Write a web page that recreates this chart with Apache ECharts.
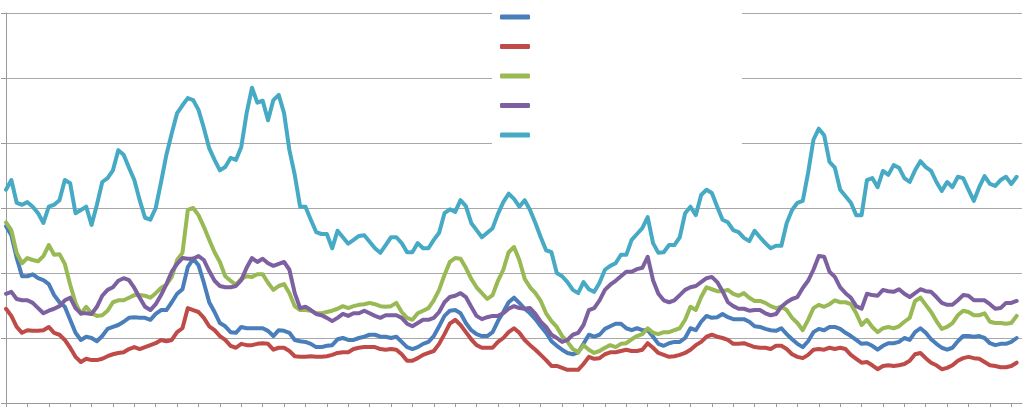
<!DOCTYPE html>
<html>
<head>
<meta charset="utf-8">
<script src="https://cdn.jsdelivr.net/npm/echarts@6/dist/echarts.min.js"></script>
<style>
html,body{margin:0;padding:0;background:#fff;}
#chart{width:1024px;height:407px;}
</style>
</head>
<body>
<div id="chart"></div>
<script>
const categories = Array.from({length: 191}, (_, i) => String(i + 1));
const seriesNames = ['Series 1', 'Series 2', 'Series 3', 'Series 4', 'Series 5'];
const yTicks = [0, 1, 2, 3, 4, 5, 6];

const blue = [2.72,2.58,2.23,1.95,1.95,1.98,1.92,1.89,1.83,1.66,1.55,1.48,1.28,1.08,0.97,1.02,1.00,0.95,1.03,1.14,
1.17,1.20,1.25,1.31,1.32,1.31,1.31,1.28,1.37,1.43,1.43,1.55,1.68,1.75,2.09,2.22,2.12,1.85,1.55,1.40,
1.23,1.18,1.09,1.08,1.17,1.15,1.15,1.15,1.15,1.11,1.03,1.12,1.11,1.08,0.97,0.95,0.94,0.91,0.86,0.86,
0.88,0.89,0.98,1.00,0.97,0.97,1.00,1.02,1.05,1.05,1.02,1.02,1.00,1.02,0.94,0.86,0.83,0.86,0.91,0.94,
1.03,1.18,1.34,1.42,1.43,1.38,1.23,1.12,1.06,1.03,1.03,1.09,1.26,1.40,1.55,1.62,1.54,1.45,1.38,1.29,
1.18,1.08,0.95,0.88,0.82,0.77,0.75,0.78,0.91,1.05,1.02,1.05,1.14,1.18,1.22,1.22,1.15,1.12,1.15,1.12,
1.12,1.02,0.91,0.88,0.92,0.94,0.94,1.00,1.15,1.12,1.25,1.34,1.31,1.32,1.37,1.32,1.29,1.29,1.29,1.25,
1.18,1.17,1.14,1.12,1.11,1.15,1.06,0.98,0.91,0.86,0.95,1.09,1.14,1.12,1.17,1.17,1.14,1.08,1.03,0.97,
0.91,0.92,0.88,0.82,0.88,0.92,0.92,0.94,1.00,0.97,1.09,1.15,1.08,0.98,0.91,0.85,0.82,0.85,0.95,1.03,
1.03,1.02,1.03,1.00,0.92,0.89,0.91,0.91,0.94,1.00];

const red = [1.45,1.34,1.17,1.08,1.12,1.11,1.11,1.12,1.17,1.08,1.05,0.97,0.85,0.71,0.63,0.68,0.66,0.66,0.68,0.72,
0.75,0.77,0.78,0.83,0.86,0.83,0.86,0.89,0.92,0.97,0.95,0.97,1.09,1.15,1.46,1.43,1.40,1.31,1.18,1.12,
1.03,0.97,0.88,0.85,0.91,0.89,0.89,0.91,0.92,0.91,0.82,0.85,0.85,0.80,0.72,0.71,0.71,0.72,0.71,0.71,
0.72,0.74,0.77,0.78,0.78,0.83,0.85,0.86,0.86,0.86,0.83,0.82,0.83,0.82,0.75,0.65,0.65,0.69,0.74,0.77,
0.80,0.91,1.06,1.22,1.28,1.20,1.09,0.98,0.89,0.85,0.85,0.85,0.94,1.00,1.09,1.15,1.08,0.97,0.89,0.82,
0.74,0.66,0.57,0.57,0.54,0.51,0.51,0.51,0.60,0.71,0.68,0.69,0.75,0.78,0.78,0.80,0.82,0.80,0.80,0.82,
0.92,0.85,0.77,0.74,0.71,0.72,0.74,0.77,0.82,0.89,0.94,1.02,1.05,1.02,1.00,0.97,0.91,0.91,0.92,0.89,
0.86,0.85,0.85,0.83,0.88,0.88,0.83,0.75,0.71,0.69,0.74,0.82,0.83,0.82,0.85,0.83,0.85,0.83,0.74,0.68,
0.62,0.63,0.58,0.52,0.57,0.58,0.57,0.58,0.60,0.65,0.75,0.77,0.69,0.62,0.58,0.52,0.54,0.58,0.65,0.69,
0.71,0.69,0.68,0.63,0.58,0.57,0.55,0.55,0.57,0.62];

const green = [2.78,2.66,2.31,2.15,2.23,2.20,2.18,2.26,2.43,2.28,2.29,2.14,1.82,1.54,1.37,1.48,1.38,1.34,1.35,1.42,
1.55,1.58,1.58,1.62,1.66,1.66,1.65,1.62,1.69,1.77,1.82,1.94,2.20,2.31,2.97,3.00,2.89,2.71,2.51,2.32,
2.17,1.95,1.88,1.82,1.91,1.95,1.94,1.98,1.98,1.85,1.74,1.80,1.83,1.69,1.49,1.43,1.43,1.42,1.38,1.38,
1.40,1.42,1.45,1.49,1.46,1.49,1.51,1.52,1.54,1.52,1.49,1.48,1.49,1.54,1.40,1.31,1.28,1.38,1.42,1.46,
1.58,1.74,1.97,2.17,2.23,2.22,2.08,1.91,1.78,1.69,1.60,1.66,1.88,2.05,2.32,2.40,2.20,1.91,1.78,1.69,
1.57,1.38,1.26,1.17,1.03,0.94,0.83,0.78,0.89,0.82,0.77,0.80,0.85,0.89,0.86,0.91,0.92,0.98,1.03,1.06,
1.15,1.08,1.06,1.09,1.09,1.12,1.15,1.28,1.48,1.43,1.63,1.78,1.75,1.72,1.72,1.74,1.68,1.65,1.69,1.62,
1.57,1.57,1.54,1.49,1.46,1.48,1.43,1.31,1.23,1.12,1.28,1.46,1.51,1.48,1.52,1.58,1.55,1.55,1.52,1.38,
1.20,1.28,1.17,1.09,1.15,1.17,1.15,1.18,1.25,1.31,1.57,1.62,1.51,1.40,1.26,1.14,1.17,1.23,1.35,1.42,
1.40,1.35,1.35,1.38,1.25,1.23,1.23,1.22,1.23,1.34];

const purple = [1.68,1.71,1.60,1.58,1.58,1.54,1.46,1.38,1.42,1.45,1.49,1.58,1.62,1.46,1.38,1.38,1.37,1.48,1.65,1.74,
1.78,1.88,1.92,1.89,1.77,1.62,1.48,1.43,1.52,1.66,1.83,2.02,2.14,2.23,2.22,2.22,2.26,2.20,2.03,1.88,
1.80,1.78,1.78,1.80,1.89,2.08,2.23,2.17,2.22,2.15,2.11,2.14,2.17,2.05,1.69,1.46,1.48,1.43,1.37,1.35,
1.31,1.26,1.31,1.37,1.34,1.38,1.38,1.42,1.38,1.34,1.31,1.35,1.35,1.35,1.31,1.22,1.18,1.23,1.28,1.28,
1.31,1.40,1.55,1.63,1.65,1.69,1.63,1.48,1.34,1.29,1.32,1.34,1.34,1.38,1.45,1.49,1.46,1.45,1.46,1.37,
1.25,1.17,1.05,1.00,0.94,0.97,1.05,1.08,1.20,1.43,1.46,1.58,1.74,1.82,1.88,1.95,2.02,2.02,2.06,2.08,
2.25,1.89,1.68,1.58,1.55,1.58,1.66,1.74,1.78,1.80,1.86,1.92,1.94,1.86,1.72,1.55,1.49,1.45,1.45,1.42,
1.43,1.43,1.38,1.35,1.37,1.48,1.55,1.60,1.63,1.77,1.88,2.05,2.26,2.25,2.02,1.94,1.78,1.69,1.62,1.49,
1.45,1.68,1.66,1.65,1.74,1.72,1.71,1.75,1.68,1.63,1.69,1.75,1.72,1.71,1.63,1.54,1.51,1.51,1.58,1.66,
1.65,1.58,1.58,1.58,1.52,1.45,1.46,1.54,1.54,1.57];

const cyan = [3.28,3.43,3.08,3.05,3.09,3.02,2.92,2.77,3.02,3.05,3.12,3.43,3.38,2.92,2.97,3.02,2.74,3.05,3.40,3.46,
3.58,3.89,3.82,3.62,3.43,3.12,2.85,2.82,3.00,3.40,3.82,4.15,4.46,4.58,4.69,4.66,4.51,4.23,3.92,3.74,
3.58,3.63,3.77,3.74,3.94,4.46,4.85,4.62,4.65,4.35,4.66,4.74,4.46,3.89,3.51,3.02,3.02,2.82,2.63,2.60,
2.60,2.38,2.65,2.55,2.45,2.51,2.57,2.58,2.48,2.38,2.31,2.43,2.55,2.55,2.46,2.32,2.32,2.46,2.38,2.38,
2.51,2.62,2.92,2.98,2.94,3.12,3.03,2.77,2.66,2.55,2.62,2.69,2.91,3.09,3.22,3.14,3.02,3.12,2.97,2.77,
2.55,2.35,2.32,2.00,1.95,1.86,1.74,1.69,1.86,1.75,1.71,1.85,2.05,2.11,2.15,2.28,2.28,2.51,2.60,2.69,
2.86,2.46,2.31,2.32,2.43,2.43,2.55,2.92,3.02,2.89,3.20,3.28,3.23,3.02,2.82,2.78,2.66,2.63,2.54,2.49,
2.65,2.55,2.46,2.38,2.42,2.42,2.77,2.97,3.08,3.11,3.54,4.05,4.22,4.12,3.71,3.62,3.28,3.18,3.08,2.89,
2.89,3.43,3.46,3.32,3.57,3.51,3.66,3.62,3.46,3.40,3.58,3.72,3.63,3.57,3.40,3.26,3.40,3.32,3.48,3.46,
3.28,3.11,3.32,3.49,3.37,3.34,3.43,3.48,3.37,3.48];

const seriesData = [blue, red, green, purple, cyan];
const colors = ['#4A7EBB', '#BE4B48', '#98B954', '#7D60A0', '#46AAC5'];

const chart = echarts.init(document.getElementById('chart'), null, {renderer: 'canvas'});
chart.setOption({
  animation: false,
  backgroundColor: '#ffffff',
  grid: {left: 6, right: 2, top: 13, bottom: 4, containLabel: false},
  xAxis: {
    type: 'category',
    data: categories,
    boundaryGap: false,
    axisLine: {show: true, lineStyle: {color: '#9a9a9a', width: 1}},
    axisTick: {show: true, interval: 3, length: 4, lineStyle: {color: '#9a9a9a'}},
    axisLabel: {show: false},
    splitLine: {show: false}
  },
  yAxis: {
    type: 'value',
    min: yTicks[0],
    max: yTicks[yTicks.length - 1],
    interval: 1,
    axisLine: {show: true, lineStyle: {color: '#9a9a9a', width: 1}},
    axisTick: {show: true, length: 5, lineStyle: {color: '#9a9a9a'}},
    axisLabel: {show: false},
    splitLine: {show: true, lineStyle: {color: '#a8a8a8', width: 1}}
  },
  legend: {
    show: true,
    orient: 'vertical',
    left: 500,
    top: 14.5,
    padding: 0,
    itemWidth: 30,
    itemHeight: 5,
    itemGap: 24.5,
    icon: 'roundRect',
    formatter: function () { return ''; },
    textStyle: {fontSize: 5, lineHeight: 5},
    selectedMode: false,
    data: seriesNames
  },
  graphic: [{
    type: 'rect',
    left: 492,
    top: 0,
    shape: {width: 250, height: 146},
    style: {fill: '#ffffff'},
    z: 1,
    silent: true
  }],
  series: seriesData.map((d, k) => ({
    name: seriesNames[k],
    type: 'line',
    data: d,
    symbol: 'none',
    smooth: false,
    z: 3 + k,
    itemStyle: {color: colors[k]},
    lineStyle: {color: colors[k], width: 4, join: 'round', cap: 'round'}
  }))
});
</script>
</body>
</html>
